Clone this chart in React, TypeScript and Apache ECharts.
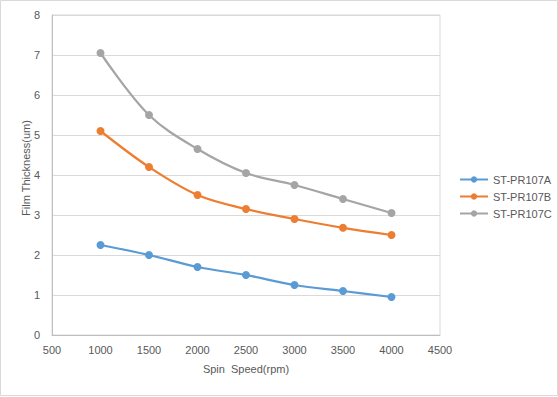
import React, { useEffect, useRef } from "react";
import * as echarts from "echarts";

const speeds = [1000, 1500, 2000, 2500, 3000, 3500, 4000];
const seriesA = [2.25, 2.0, 1.7, 1.5, 1.25, 1.1, 0.95];
const seriesB = [5.1, 4.2, 3.5, 3.15, 2.9, 2.68, 2.5];
const seriesC = [7.05, 5.5, 4.65, 4.05, 3.75, 3.4, 3.05];
const seriesNames = ["ST-PR107A", "ST-PR107B", "ST-PR107C"];
const colors = ["#5B9BD5", "#ED7D31", "#A5A5A5"];

const FONT = "Liberation Sans";

export default function App() {
  const ref = useRef<HTMLDivElement>(null);
  useEffect(() => {
    if (!ref.current) return;
    const chart = echarts.init(ref.current, undefined, { renderer: "svg" });
    const all = [seriesA, seriesB, seriesC];
    chart.setOption({
      animation: false,
      backgroundColor: "#ffffff",
      textStyle: { fontFamily: FONT },
      graphic: [
        {
          type: "rect",
          shape: { x: 0.5, y: 0.5, width: 557, height: 395 },
          style: { fill: "none", stroke: "#d9d9d9", lineWidth: 1 },
          silent: true,
        },
      ],
      grid: {
        left: 52,
        right: 118,
        top: 15,
        bottom: 62,
        show: true,
        borderColor: "#d9d9d9",
        borderWidth: 1,
      },
      legend: {
        orient: "vertical",
        left: 459,
        top: 174,
        padding: 0,
        itemWidth: 28,
        itemHeight: 8,
        itemGap: 6,
        textStyle: { color: "#595959", fontSize: 11, fontFamily: FONT },
        data: seriesNames,
      },
      xAxis: {
        type: "value",
        min: 500,
        max: 4500,
        interval: 500,
        name: "Spin  Speed(rpm)",
        nameLocation: "middle",
        nameGap: 28,
        nameTextStyle: { color: "#595959", fontSize: 11, fontFamily: FONT },
        axisLine: { show: true, lineStyle: { color: "#bfbfbf" } },
        axisTick: { show: false },
        axisLabel: {
          color: "#595959",
          fontSize: 11,
          margin: 9,
          formatter: (v: number) => String(v),
        },
        splitLine: { show: false },
      },
      yAxis: {
        type: "value",
        min: 0,
        max: 8,
        interval: 1,
        name: "Film Thickness(um)",
        nameLocation: "middle",
        nameGap: 21,
        nameMoveOverlap: false,
        nameTextStyle: {
          color: "#595959",
          fontSize: 11,
          fontFamily: FONT,
          padding: [0, 0, 0, 14],
        },
        axisLine: { show: true, lineStyle: { color: "#bfbfbf" } },
        axisTick: { show: false },
        axisLabel: { color: "#595959", fontSize: 11, margin: 12 },
        splitLine: { show: true, lineStyle: { color: "#d9d9d9" } },
      },
      series: all.map((vals, i) => ({
        name: seriesNames[i],
        type: "line",
        smooth: 0.35,
        symbol: "circle",
        symbolSize: 8,
        data: speeds.map((s, j) => [s, vals[j]]),
        itemStyle: { color: colors[i] },
        lineStyle: { color: colors[i], width: 2.25 },
      })),
    });
    return () => chart.dispose();
  }, []);
  return (
    <div
      ref={ref}
      style={{ position: "fixed", left: 0, top: 0, width: 558, height: 397 }}
    />
  );
}
